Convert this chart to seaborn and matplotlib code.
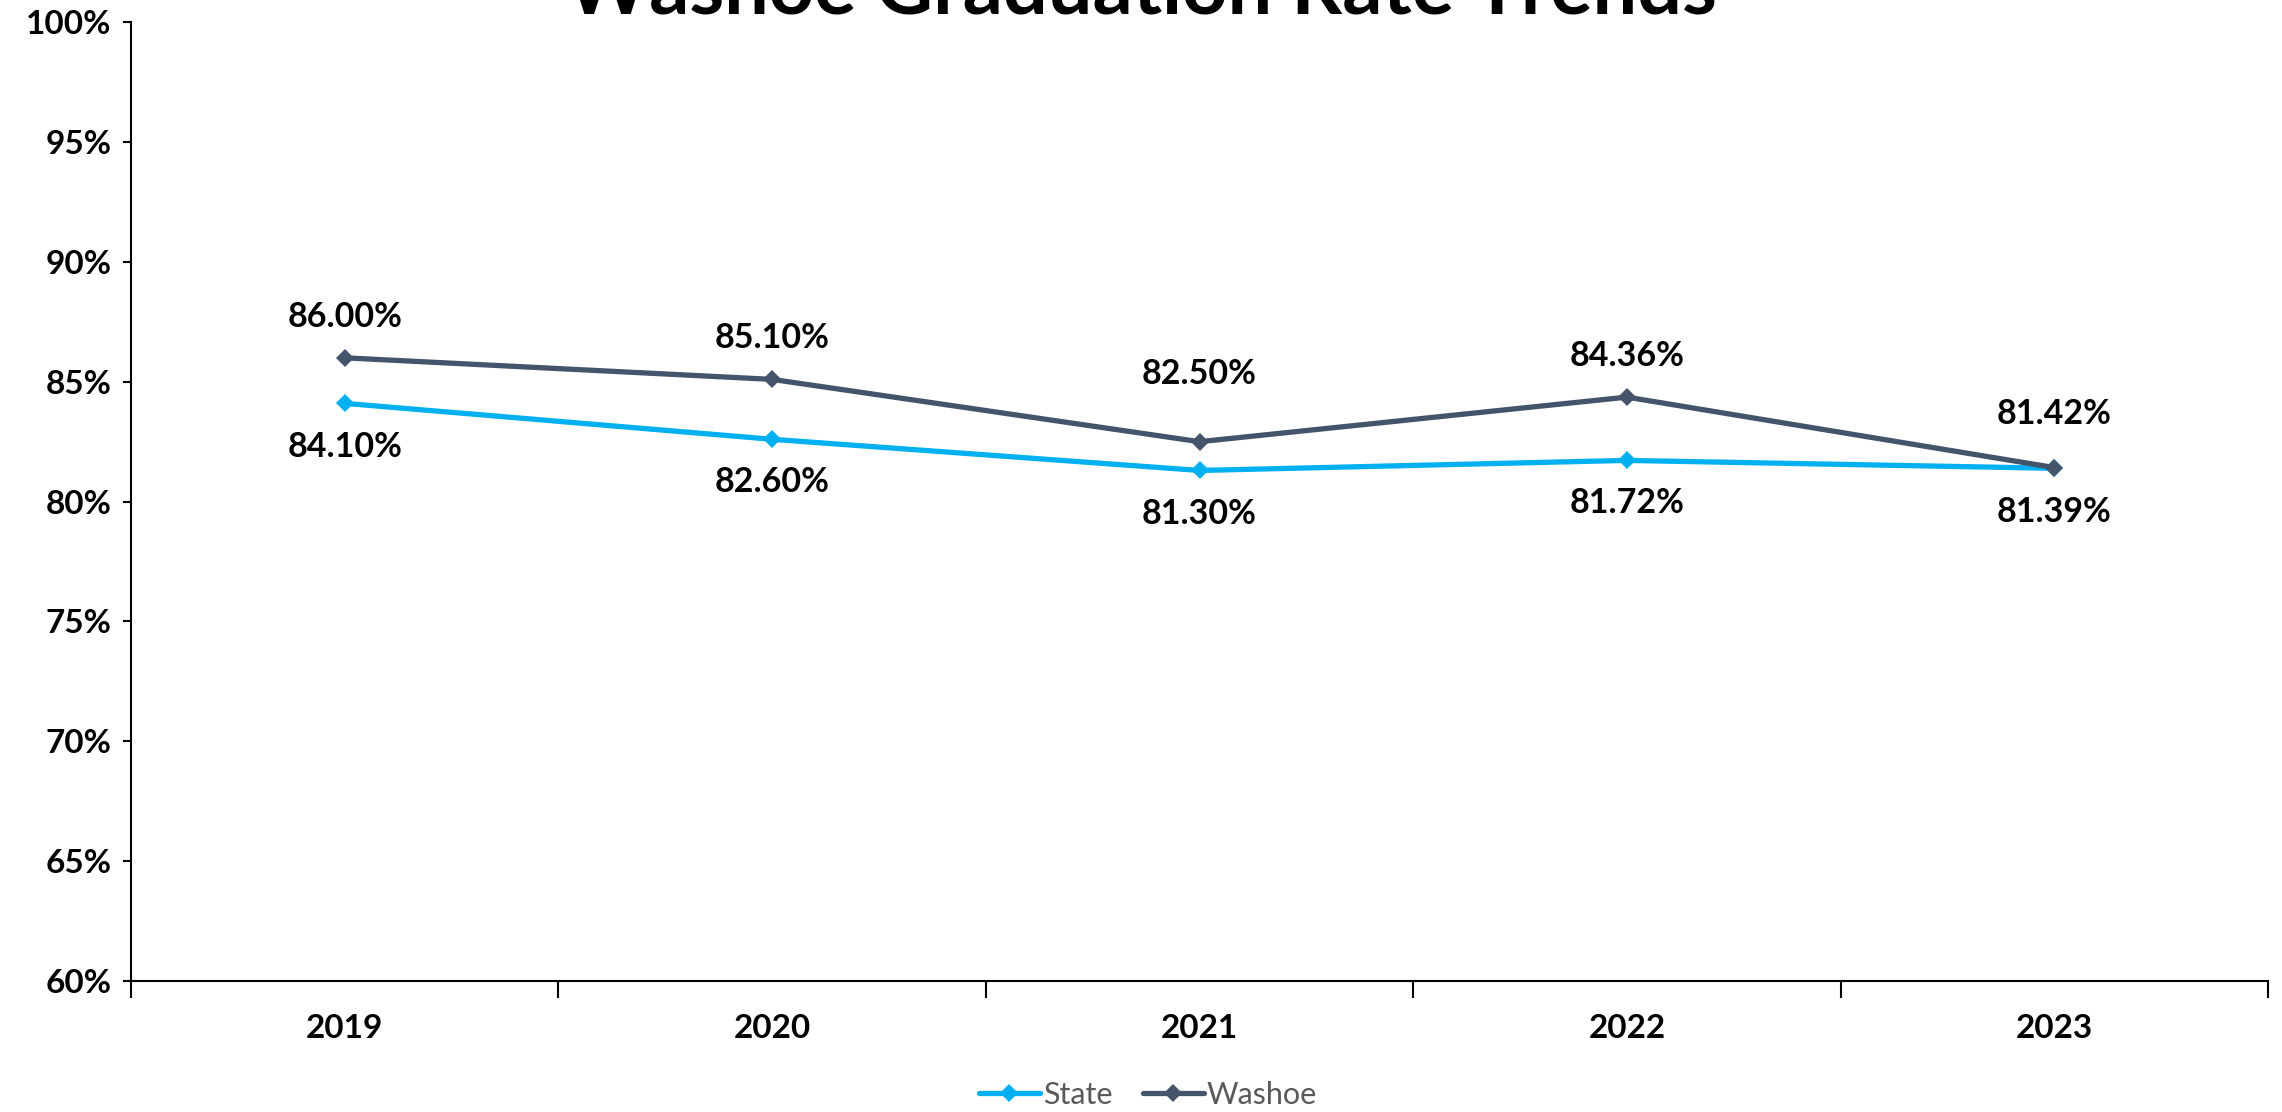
import matplotlib
matplotlib.use("Agg")
import matplotlib.pyplot as plt
import seaborn as sns
import pandas as pd
import numpy as np
from matplotlib.ticker import FixedLocator, PercentFormatter

years = ["2019", "2020", "2021", "2022", "2023"]
state = [84.10, 82.60, 81.30, 81.72, 81.39]
washoe = [86.00, 85.10, 82.50, 84.36, 81.42]
series_names = ["State", "Washoe"]
colors = {"State": "#00B0F0", "Washoe": "#44546A"}
title = "Washoe Graduation Rate Trends"

df = pd.DataFrame({
    "Year": years * 2,
    "Rate": state + washoe,
    "Series": ["State"] * len(years) + ["Washoe"] * len(years),
})

sns.set_theme(style="white")
plt.rcParams['font.family'] = ['Lato', 'DejaVu Sans']

fig = plt.figure(figsize=(22.82, 11.12), dpi=100)
ax = fig.add_axes([0.0574, 0.1178, 0.9365, 0.8622])

sns.lineplot(data=df, x="Year", y="Rate", hue="Series", palette=colors,
             hue_order=series_names, marker="D", markersize=9,
             markeredgewidth=0, linewidth=3.8, ax=ax, sort=False)

ax.set_ylim(60, 100)
ax.set_xlim(-0.5, len(years) - 0.5)
ax.yaxis.set_major_locator(FixedLocator(np.arange(60, 101, 5)))
ax.yaxis.set_major_formatter(PercentFormatter(decimals=0))
ax.set_xticks(range(len(years)))
ax.set_xticklabels(years)
ax.xaxis.set_minor_locator(FixedLocator(np.arange(-0.5, len(years), 1.0)))
ax.tick_params(axis='x', which='both', bottom=True)
ax.tick_params(axis='y', which='major', left=True)
ax.tick_params(axis='x', which='major', length=0, pad=24, labelsize=24)
ax.tick_params(axis='x', which='minor', length=12, width=1.5, color='black', direction='out')
ax.tick_params(axis='y', which='major', length=6, width=1.5, color='black', direction='out', labelsize=24, pad=8)
for lbl in ax.get_xticklabels() + ax.get_yticklabels():
    lbl.set_fontweight('bold')
    lbl.set_color('black')
ax.set_xlabel("")
ax.set_ylabel("")
for s in ["top", "right"]:
    ax.spines[s].set_visible(False)
for s in ["left", "bottom"]:
    ax.spines[s].set_color("black")
    ax.spines[s].set_linewidth(1.5)
ax.grid(False)

# data labels
washoe_off = [41, 41, 68, 41, 54]
state_off = [-44, -43, -44, -43, -44]
for i in range(len(years)):
    ax.annotate(f"{washoe[i]:.2f}%", (i, washoe[i]), xytext=(0, washoe_off[i] * 0.72),
                textcoords='offset points', ha='center', va='center',
                fontsize=24.5, fontweight='bold', color='black')
    ax.annotate(f"{state[i]:.2f}%", (i, state[i]), xytext=(0, state_off[i] * 0.72),
                textcoords='offset points', ha='center', va='center',
                fontsize=24.5, fontweight='bold', color='black')

leg = ax.legend(loc='lower center', ncol=2, frameon=False,
                fontsize=22, handlelength=2.0, handletextpad=0.1, columnspacing=1.0,
                labelcolor='#595959')
leg.set_bbox_to_anchor((0.503, -0.022), transform=fig.transFigure)

fig.text(0.5, 0.988, title, ha='center', va='baseline', fontsize=57,
         fontweight='bold', color='black')

fig.savefig("out.png", dpi=100, facecolor='white')
